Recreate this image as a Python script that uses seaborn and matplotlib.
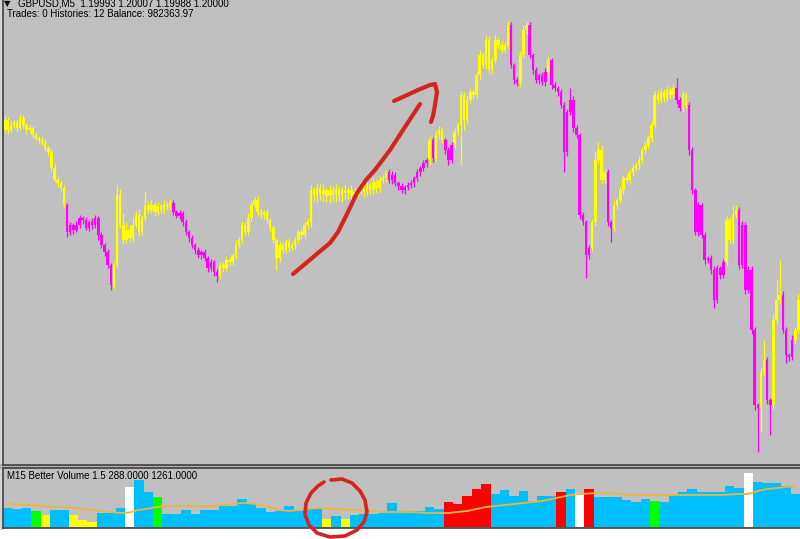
import numpy as np
import pandas as pd
import matplotlib
matplotlib.use("Agg")
import matplotlib.pyplot as plt
import seaborn as sns

# ---------------- data ----------------
header_line1 = "GBPUSD,M5  1.19993 1.20007 1.19988 1.20000"
header_line2 = "Trades: 0 Histories: 12 Balance: 982363.97"
volume_label = "M15 Better Volume 1.5 288.0000 1261.0000"

first_open = 335
closes = [345, 335, 340, 343, 337, 347, 340, 335, 337, 330,
          327, 325, 322, 317, 313, 297, 285, 282, 277, 260,
          233, 240, 235, 240, 247, 245, 237, 243, 240, 247,
          230, 220, 213, 200, 180, 200, 270, 240, 225, 235,
          227, 240, 250, 233, 247, 260, 255, 260, 253, 259,
          255, 260, 258, 262, 253, 249, 252, 243, 233, 227,
          220, 215, 210, 213, 207, 197, 203, 193, 189, 200,
          197, 205, 203, 210, 220, 225, 240, 233, 247, 260,
          265, 253, 250, 253, 245, 237, 225, 207, 220, 215,
          223, 217, 220, 225, 233, 230, 240, 243, 275, 270,
          277, 271, 275, 269, 275, 270, 276, 270, 275, 272,
          275, 270, 273, 275, 279, 273, 280, 275, 283, 277,
          285, 287, 293, 285, 290, 282, 279, 275, 278, 280,
          282, 287, 293, 297, 302, 305, 325, 307, 330, 335,
          325, 315, 305, 320, 333, 340, 370, 345, 365, 373,
          370, 390, 410, 400, 425, 395, 405, 425, 420, 415,
          420, 440, 400, 385, 382, 410, 435, 440, 410, 395,
          385, 390, 383, 393, 405, 380, 377, 373, 360, 313,
          353, 365, 337, 330, 250, 243, 210, 217, 243, 305,
          315, 285, 293, 243, 237, 260, 265, 275, 287, 285,
          293, 297, 300, 305, 315, 320, 327, 340, 370, 365,
          373, 367, 375, 370, 377, 365, 357, 370, 360, 315,
          275, 233, 260, 230, 205, 207, 195, 165, 197, 190,
          203, 245, 225, 250, 255, 200, 240, 175, 195, 135,
          60, 57, 93, 105, 65, 60, 145, 165, 170, 135,
          110, 108, 125, 135, 165]

wick_up = [4, 3, 5, 2, 3, 4, 3, 2, 3, 2,
           3, 2, 3, 4, 2, 3, 5, 3, 2, 3,
           2, 3, 2, 4, 3, 2, 3, 2, 4, 3,
           2, 3, 2, 3, 2, 3, 10, 6, 12, 8,
           5, 8, 4, 6, 3, 13, 4, 5, 3, 4,
           3, 5, 3, 4, 3, 2, 3, 2, 3, 2,
           3, 2, 3, 2, 3, 2, 3, 2, 3, 3,
           3, 4, 3, 2, 5, 3, 4, 3, 5, 4,
           3, 4, 3, 2, 3, 2, 3, 2, 4, 3,
           3, 4, 3, 3, 2, 3, 3, 4, 5, 3,
           5, 4, 6, 3, 5, 4, 5, 3, 4, 5,
           3, 5, 4, 3, 5, 3, 4, 3, 5, 3,
           4, 3, 2, 3, 4, 3, 2, 3, 2, 3,
           3, 2, 3, 2, 3, 2, 4, 3, 5, 4,
           3, 2, 3, 3, 4, 3, 4, 3, 5, 4,
           3, 4, 5, 3, 5, 4, 3, 5, 3, 4,
           3, 4, 3, 2, 3, 4, 5, 3, 3, 2,
           3, 2, 3, 4, 3, 2, 3, 2, 3, 3,
           3, 12, 4, 3, 2, 3, 2, 3, 3, 8,
           8, 4, 3, 3, 2, 4, 3, 4, 3, 4,
           3, 4, 3, 4, 3, 4, 3, 4, 4, 5,
           4, 3, 5, 3, 4, 10, 3, 4, 3, 3,
           3, 2, 3, 2, 3, 2, 3, 4, 3, 2,
           3, 4, 3, 10, 5, 3, 4, 3, 4, 4,
           3, 2, 4, 20, 3, 2, 6, 20, 35, 4,
           3, 2, 5, 3, 6]

wick_dn = [3, 4, 2, 3, 4, 2, 3, 4, 2, 3,
           2, 3, 2, 3, 4, 3, 2, 4, 3, 3,
           5, 3, 4, 2, 3, 4, 2, 3, 4, 3,
           5, 3, 4, 3, 5, 4, 3, 3, 4, 3,
           3, 4, 3, 4, 3, 3, 4, 3, 4, 3,
           3, 4, 3, 3, 3, 2, 3, 4, 3, 4,
           3, 4, 3, 4, 3, 4, 3, 4, 6, 3,
           4, 3, 4, 3, 4, 3, 3, 4, 3, 4,
           3, 4, 3, 4, 3, 4, 3, 12, 4, 3,
           3, 4, 3, 4, 3, 4, 3, 4, 5, 6,
           7, 6, 7, 6, 7, 6, 7, 6, 7, 6,
           6, 5, 6, 5, 4, 5, 4, 5, 4, 5,
           4, 3, 4, 3, 4, 3, 4, 3, 4, 3,
           3, 4, 3, 4, 3, 4, 5, 4, 3, 4,
           3, 4, 5, 3, 4, 3, 40, 10, 4, 3,
           4, 3, 4, 3, 4, 3, 4, 3, 4, 3,
           3, 4, 3, 4, 3, 4, 3, 4, 3, 4,
           3, 4, 3, 4, 3, 4, 3, 4, 3, 20,
           4, 3, 4, 3, 4, 3, 23, 4, 3, 4,
           3, 4, 3, 4, 14, 3, 4, 3, 4, 3,
           3, 4, 3, 4, 3, 4, 3, 4, 3, 4,
           3, 4, 3, 4, 3, 4, 3, 4, 3, 5,
           4, 3, 4, 3, 4, 3, 4, 8, 3, 4,
           3, 4, 3, 4, 3, 4, 3, 4, 3, 4,
           5, 44, 23, 3, 4, 30, 4, 3, 4, 3,
           8, 4, 3, 4, 3]

# alternating trend runs, starting with "up" (yellow)
trend_runs = [20, 15, 19, 15, 54, 13, 1, 1, 3, 3, 18, 3, 3, 6, 1, 13,
              5, 2, 20, 2, 2, 12, 4, 7, 2, 2, 3, 4, 2]

# M15 volume (one value per 3 M5 candles)
volume = [19, 18, 19, 16, 12, 17, 17, 12, 7, 5,
          14, 14, 19, 40, 47, 35, 30, 13, 13, 17,
          13, 17, 17, 21, 21, 28, 24, 19, 15, 16,
          21, 16, 18, 18, 8, 11, 8, 12, 13, 13,
          14, 24, 16, 16, 16, 20, 18, 25, 23, 31,
          38, 43, 33, 37, 31, 36, 26, 31, 31, 35,
          38, 34, 38, 30, 30, 30, 27, 25, 28, 26,
          25, 32, 35, 38, 35, 35, 35, 41, 39, 54,
          45, 44, 44, 41, 33]
volume_kind = list("bbbgybbyyy" "bbbwbbgbbb" "bbbbbbbbbb" "bbbbybybbb"
                   "bbbbbbbrrr" "rrbbbbbbbr" "bwrbbbbbbg" "bbbbbbbbbw" "bbbbb")
volume_ma = [23, 22.5, 22, 21.5, 21, 20, 19.5, 19, 18.5, 17,
             16, 15, 14, 14.5, 17, 18.5, 20, 21, 21, 21,
             21, 21, 21, 22, 23, 24, 23.5, 22, 20, 17,
             16, 17, 18, 19, 18.5, 18, 17.5, 17, 16.5, 16,
             15, 15, 15, 15, 14.5, 14, 14, 14, 15, 16,
             18, 20, 21, 22, 23, 24, 25, 26, 28, 30,
             32, 33, 33.5, 34, 34, 33, 32.5, 32, 32, 32,
             32, 32, 32, 32, 32, 32, 32, 32.5, 33, 33,
             36, 38, 39, 40, 41]

# hand-drawn red annotation strokes (screen pixels)
arrow_shaft_x = [293, 305, 318, 330, 338, 347, 357, 366, 375, 390, 405, 420]
arrow_shaft_y = [274, 264, 253, 243, 232, 214, 193, 180, 170, 150, 127, 104]
arrow_head_x = [394, 405, 418, 430, 435, 437, 435, 433, 431]
arrow_head_y = [101, 96, 90, 85, 84, 92, 105, 116, 122]
circle_x = [331, 342, 352, 360, 365, 367, 364, 357, 345, 330, 317, 309, 305, 306, 311, 318, 324]
circle_y = [480, 479, 483, 491, 500, 512, 522, 530, 536, 537, 533, 525, 515, 503, 493, 486, 482]

# ---------------- styles ----------------
UP_C, DN_C = "#ffff00", "#ff00ff"
VOL_COLORS = {"b": "#00bfff", "g": "#00ff00", "y": "#ffff00", "r": "#ff0000", "w": "#ffffff"}
BG = "#c0c0c0"
FRAME = "#404040"

sns.set_style("white")
plt.rcParams["font.family"] = ["Liberation Sans", "DejaVu Sans"]

W, H = 800, 539
fig = plt.figure(figsize=(W / 100, H / 100), dpi=100, facecolor="white")

# window chrome strips
chrome = fig.add_axes([0, 0, 1, 1], zorder=-5)
chrome.set_xlim(0, W); chrome.set_ylim(H, 0); chrome.axis("off")
chrome.add_patch(plt.Rectangle((0, 0), 3, 530, color="#d4d4d4", lw=0))
chrome.add_patch(plt.Rectangle((0, 464), W, 5, color="#b0b0b0", lw=0))

# ---------------- main candle panel ----------------
ax = fig.add_axes([3 / W, (H - 465) / H, (W - 3) / W, 465 / H])
ax.set_facecolor(BG)
n = len(closes)
idx = np.arange(n)
c = np.array(closes, float)
o = np.concatenate([[first_open], c[:-1]])
trend = []
up = True
for r in trend_runs:
    trend += [up] * r
    up = not up
cols = [UP_C if t else DN_C for t in trend]
body_lo = np.minimum(o, c)
body_hi = np.maximum(o, c)
body_h = np.maximum(body_hi - body_lo, 2.0)
highs = body_hi + np.array(wick_up)
lows = body_lo - np.array(wick_dn)

ax.vlines(idx, lows, highs, colors=cols, linewidth=0.9)
ax.bar(idx, body_h, bottom=body_lo, width=0.8, color=cols, linewidth=0)
ax.set_xlim(-0.5, n - 0.5)
ax.set_ylim(0, 465)
ax.set_xticks([]); ax.set_yticks([])
for s in ["top", "right"]:
    ax.spines[s].set_visible(False)
for s in ["left", "bottom"]:
    ax.spines[s].set_color(FRAME); ax.spines[s].set_linewidth(1.2)

# ---------------- volume panel ----------------
axv = fig.add_axes([3 / W, (H - 528) / H, (W - 3) / W, 60 / H])
axv.set_facecolor(BG)
vdf = pd.DataFrame({
    "pos": np.arange(len(volume)) * 3 + 1,
    "vol": volume,
    "kind": volume_kind,
    "ma": volume_ma,
})
sns.barplot(data=vdf, x="pos", y="vol", hue="kind", palette=VOL_COLORS,
            native_scale=True, dodge=False, width=1.0, saturation=1,
            errorbar=None, legend=False, linewidth=0, ax=axv)
sns.lineplot(data=vdf, x="pos", y="ma", color="#efb43c", linewidth=1.3, ax=axv)
axv.set_xlim(-0.5, n - 0.5)
axv.set_ylim(-1, 59)
axv.set_xticks([]); axv.set_yticks([])
axv.set_xlabel(""); axv.set_ylabel("")
axv.spines["right"].set_visible(False)
for s in ["left", "top", "bottom"]:
    axv.spines[s].set_color(FRAME); axv.spines[s].set_linewidth(1.2)

# ---------------- overlay: texts and hand drawing ----------------
ov = fig.add_axes([0, 0, 1, 1], facecolor="none")
ov.set_xlim(0, W); ov.set_ylim(H, 0); ov.axis("off")
ov.text(4, 4, "\u25bc", fontsize=6, family=["DejaVu Sans"], va="center", ha="left", color="black")
ov.text(18, 4, header_line1, fontsize=7, va="center", ha="left", color="black")
ov.text(7, 14, header_line2, fontsize=7, va="center", ha="left", color="black")
ov.text(7, 476, volume_label, fontsize=7, va="center", ha="left", color="black")

red = "#d42420"
ov.plot(arrow_shaft_x, arrow_shaft_y, color=red, lw=3.0, solid_capstyle="round", solid_joinstyle="round")
ov.plot(arrow_head_x, arrow_head_y, color=red, lw=3.0, solid_capstyle="round", solid_joinstyle="round")
ov.plot(circle_x, circle_y, color=red, lw=2.6, solid_capstyle="round", solid_joinstyle="round")

fig.savefig("out.png", dpi=100, facecolor="white")
